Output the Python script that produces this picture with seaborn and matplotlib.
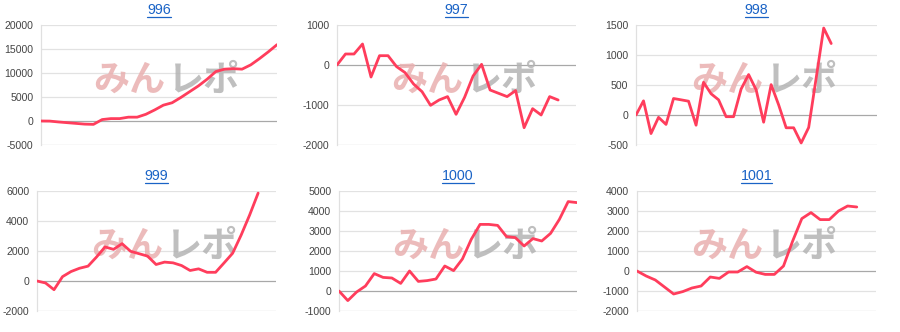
import matplotlib
matplotlib.use("Agg")
import matplotlib.pyplot as plt
from matplotlib.lines import Line2D
import seaborn as sns
import pandas as pd

# ---- data ----
titles = ["996", "997", "998", "999", "1000", "1001"]

s996 = [0, -20, -200, -350, -500, -650, -700, 300, 500, 500, 800, 800, 1400, 2300,
        3300, 3800, 4900, 6100, 7300, 8700, 10300, 10800, 10900, 10800, 11700, 13000,
        14400, 15900]
s997 = [0, 275, 275, 525, -300, 233, 233, -40, -190, -475, -667, -1008, -875, -790,
        -1233, -808, -275, 17, -625, -708, -790, -640, -1567, -1092, -1250, -790, -875]
s998 = [0, 236, -309, -39, -157, 275, 253, 230, -170, 545, 354, 253, -28, -28, 433,
        674, 421, -120, 506, 169, -213, -213, -466, -208, 618, 1449, 1191]
s999 = [0, -130, -580, 290, 630, 850, 990, 1600, 2270, 2110, 2490, 1980, 1820, 1660,
        1100, 1260, 1210, 1030, 700, 810, 580, 580, 1210, 1850, 3060, 4400, 5860]
s1000 = [0, -480, -50, 250, 870, 680, 650, 380, 1000, 480, 520, 600, 1250, 1020, 1600,
         2580, 3330, 3330, 3280, 2720, 2670, 2250, 2620, 2500, 2880, 3580, 4470, 4420]
s1001 = [0, -250, -450, -800, -1150, -1030, -850, -750, -300, -370, -50, -50, 220, -60,
         -170, -170, 250, 1500, 2620, 2920, 2570, 2570, 3000, 3250, 3200]

series = [s996, s997, s998, s999, s1000, s1001]

ticks996 = [-5000, 0, 5000, 10000, 15000, 20000]
ticks997 = [-2000, -1000, 0, 1000]
ticks998 = [-500, 0, 500, 1000, 1500]
ticks999 = [-2000, 0, 2000, 4000, 6000]
ticks1000 = [-1000, 0, 1000, 2000, 3000, 4000, 5000]
ticks1001 = [-2000, -1000, 0, 1000, 2000, 3000, 4000]
yticks = [ticks996, ticks997, ticks998, ticks999, ticks1000, ticks1001]

xmax = [27, 28.1, 32.1, 28.1, 27, 26.1]

# ---- style ----
sns.set_style("white")
plt.rcParams["font.family"] = ["Liberation Sans", "Noto Sans CJK JP", "DejaVu Sans"]

W, H = 900, 332
fig = plt.figure(figsize=(W / 100, H / 100), dpi=100)
fig.patch.set_facecolor("white")

boxes = [(41, 25, 277, 145), (337, 25, 576, 145), (636, 25, 877, 145),
         (37, 191, 276, 311), (339, 191, 577, 311), (637, 191, 876, 311)]

line_color = "#ff3d5c"
title_color = "#1a63c6"
title_texts = []

for i, (x0, y0, x1, y1) in enumerate(boxes):
    ax = fig.add_axes([x0 / W, 1 - y1 / H, (x1 - x0) / W, (y1 - y0) / H])
    vals = series[i]
    df = pd.DataFrame({"x": list(range(len(vals))), "y": vals})
    sns.lineplot(data=df, x="x", y="y", ax=ax, color=line_color, linewidth=2.0,
                 zorder=5)
    t = yticks[i]
    ax.set_ylim(t[0], t[-1])
    ax.set_xlim(0, xmax[i])
    ax.set_yticks(t)
    ax.set_yticklabels([str(v) for v in t])
    ax.set_xticks([])
    ax.set_xlabel("")
    ax.set_ylabel("")
    for v in t:
        if v == 0:
            col, lw = "#a8a8a8", 0.9
        elif v == t[0]:
            col, lw = "#cfcfcf", 0.9
        else:
            col, lw = "#e2e2e2", 0.9
        ax.axhline(v, color=col, linewidth=lw, zorder=1)
    for s in ["top", "right", "bottom"]:
        ax.spines[s].set_visible(False)
    ax.spines["left"].set_color("#e0e0e0")
    ax.spines["left"].set_linewidth(0.9)
    ax.tick_params(axis="y", length=0, pad=5.5, labelsize=7.6, labelcolor="#444444")
    ax.set_facecolor("none")

    # watermark logo
    ax.text(0.528, 0.54, "みん", transform=ax.transAxes, ha="right", va="center",
            fontsize=26, fontweight="bold", color="#e9b0b0", alpha=0.85,
            family=["Noto Sans CJK JP"], zorder=2)
    ax.text(0.538, 0.54, "レポ", transform=ax.transAxes, ha="left", va="center",
            fontsize=26, fontweight="bold", color="#b4b4b4", alpha=0.85,
            family=["Noto Sans CJK JP"], zorder=2)

    cx = (x0 + x1) / 2 / W
    ty = 1 - 10 / H if i < 3 else 1 - 176 / H
    tt = fig.text(cx, ty, titles[i], ha="center", va="center", fontsize=10.3,
                  color=title_color)
    title_texts.append(tt)

# underline titles
fig.canvas.draw()
renderer = fig.canvas.get_renderer()
for tt in title_texts:
    bb = tt.get_window_extent(renderer=renderer)
    yline = bb.y0 + 0.5
    fig.add_artist(Line2D([bb.x0 / W, bb.x1 / W], [yline / H, yline / H],
                          transform=fig.transFigure, color=title_color,
                          linewidth=0.9))

fig.savefig("out.png", dpi=100, facecolor="white")
